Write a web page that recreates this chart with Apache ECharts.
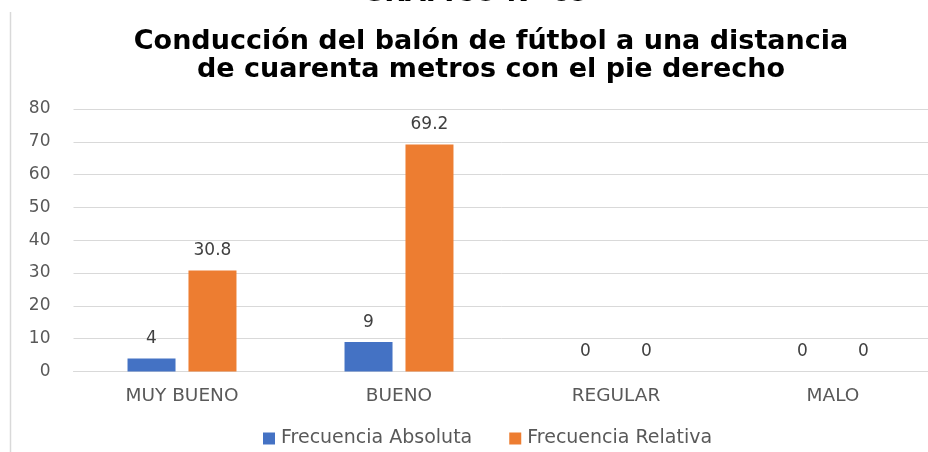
<!DOCTYPE html>
<html>
<head>
<meta charset="utf-8">
<script src="https://cdn.jsdelivr.net/npm/echarts@6/dist/echarts.min.js"></script>
<style>
html,body{margin:0;padding:0;background:#fff;}
#c{width:928px;height:452px;}
</style>
</head>
<body>
<div id="c"></div>
<script>
const categories = ['MUY BUENO', 'BUENO', 'REGULAR', 'MALO'];
const absoluta = [4, 9, 0, 0];
const relativa = [30.8, 69.2, 0, 0];
const seriesNames = ['Frecuencia Absoluta', 'Frecuencia Relativa'];
const yTicks = { min: 0, max: 80, interval: 10 };

const chart = echarts.init(document.getElementById('c'), null, { renderer: 'canvas' });
const labelFont = 'DejaVu Sans';
chart.setOption({
  animation: false,
  backgroundColor: '#fff',
  textStyle: { fontFamily: labelFont },
  title: {
    text: 'Conducción del balón de fútbol a una distancia\nde cuarenta metros con el pie derecho',
    left: 486, textAlign: 'center', top: 23,
    textStyle: { fontFamily: 'DejaVu Sans', fontWeight: 'bold', fontSize: 27, lineHeight: 28, color: '#000' }
  },
  graphic: [
    { type: 'text', left: 362, top: -20, style: { text: 'GRÁFICO N° 09', fontFamily: 'DejaVu Sans', fontWeight: 'bold', fontSize: 27, fill: '#000' } },
    { type: 'line', shape: { x1: 10.5, y1: 12, x2: 10.5, y2: 452 }, style: { stroke: '#d9d9d9', lineWidth: 1.5 } }
  ],
  legend: {
    data: seriesNames,
    top: 429, left: 263, padding: 0,
    itemWidth: 12, itemHeight: 12, itemGap: 37,
    icon: 'rect',
    textStyle: { fontFamily: labelFont, fontSize: 19, color: '#595959', padding: [0, 0, 0, 1] }
  },
  grid: { left: 73.5, top: 109, width: 868, height: 262.5, containLabel: false, outerBoundsMode: 'none' },
  xAxis: {
    type: 'category', data: categories,
    axisLine: { show: true, lineStyle: { color: '#d9d9d9' } },
    axisTick: { show: false },
    axisLabel: { fontFamily: labelFont, fontSize: 18.5, color: '#595959', margin: 15 }
  },
  yAxis: {
    type: 'value', min: yTicks.min, max: yTicks.max, interval: yTicks.interval,
    axisLine: { show: false }, axisTick: { show: false },
    splitLine: { lineStyle: { color: '#d9d9d9', width: 1 } },
    axisLabel: { fontFamily: labelFont, fontSize: 17, color: '#595959', margin: 23 }
  },
  series: [
    {
      name: seriesNames[0], type: 'bar', data: absoluta, barWidth: 48, barGap: '27%',
      itemStyle: { color: '#4472c4' },
      label: { show: true, position: 'top', distance: 11, fontFamily: labelFont, fontSize: 17, color: '#404040' }
    },
    {
      name: seriesNames[1], type: 'bar', data: relativa, barWidth: 48,
      itemStyle: { color: '#ed7d31' },
      label: { show: true, position: 'top', distance: 11, fontFamily: labelFont, fontSize: 17, color: '#404040' }
    }
  ]
});
</script>
</body>
</html>
